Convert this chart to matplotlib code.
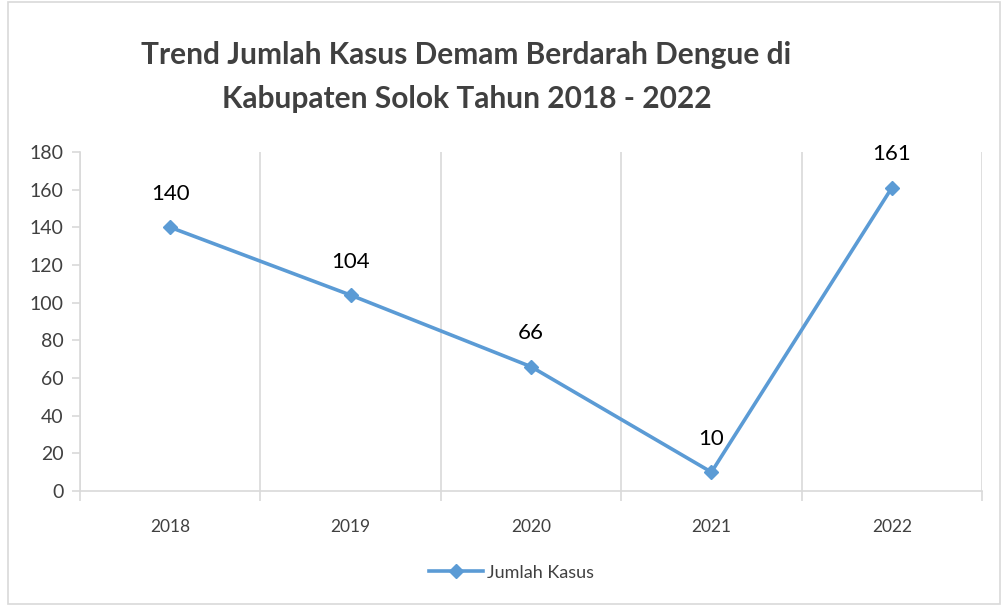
import matplotlib.pyplot as plt
from matplotlib.patches import Rectangle

years = ['2018', '2019', '2020', '2021', '2022']
kasus = [140, 104, 66, 10, 161]

lineColor = '#5B9BD5'
gridColor = '#D9D9D9'
textColor = '#404040'

plt.rcParams['font.family'] = ['Lato', 'DejaVu Sans']

fig = plt.figure(figsize=(10.03, 6.06), dpi=100)
ax = fig.add_axes([0.0798, 0.1898, 0.8993, 0.5594])

X = list(range(len(years)))
ax.plot(X, kasus, color=lineColor, linewidth=2.6, marker='D', markersize=7,
        label='Jumlah Kasus', zorder=3)

# data labels above each point
for x, y in zip(X, kasus):
    ax.annotate(str(y), (x, y), xytext=(0, 17), textcoords='offset points',
                ha='center', va='bottom', fontsize=16, color='black')

ax.set_xlim(-0.5, len(years) - 0.5)
ax.set_ylim(0, 180)
ax.set_yticks(range(0, 181, 20))
ax.set_xticks(X)
ax.set_xticklabels(years)
ax.set_xticks([i - 0.5 for i in range(len(years) + 1)], minor=True)
ax.grid(axis='x', which='minor', color=gridColor, linewidth=1.2)

ax.tick_params(axis='x', which='major', length=0, pad=20, labelsize=12.5, labelcolor=textColor)
ax.tick_params(axis='x', which='minor', length=7, color=gridColor, width=1.2)
ax.tick_params(axis='y', length=6, color=gridColor, width=1.2, labelsize=14, labelcolor=textColor, pad=6)

for s in ['top', 'right']:
    ax.spines[s].set_visible(False)
for s in ['left', 'bottom']:
    ax.spines[s].set_color(gridColor)
    ax.spines[s].set_linewidth(1.2)

fig.text(0.465, 0.91, 'Trend Jumlah Kasus Demam Berdarah Dengue di',
         ha='center', va='center', fontsize=21.5, fontweight='bold', color=textColor)
fig.text(0.465, 0.836, 'Kabupaten Solok Tahun 2018 - 2022',
         ha='center', va='center', fontsize=21.5, fontweight='bold', color=textColor)

fig.legend(loc='center', bbox_to_anchor=(0.51, 0.055), frameon=False,
           fontsize=13, labelcolor=textColor, handlelength=3, handletextpad=0.2)

fig.patches.append(Rectangle((0.008, 0.003), 0.989, 0.994, transform=fig.transFigure,
                             fill=False, edgecolor=gridColor, linewidth=1.2))

plt.savefig('out.png', dpi=100)
